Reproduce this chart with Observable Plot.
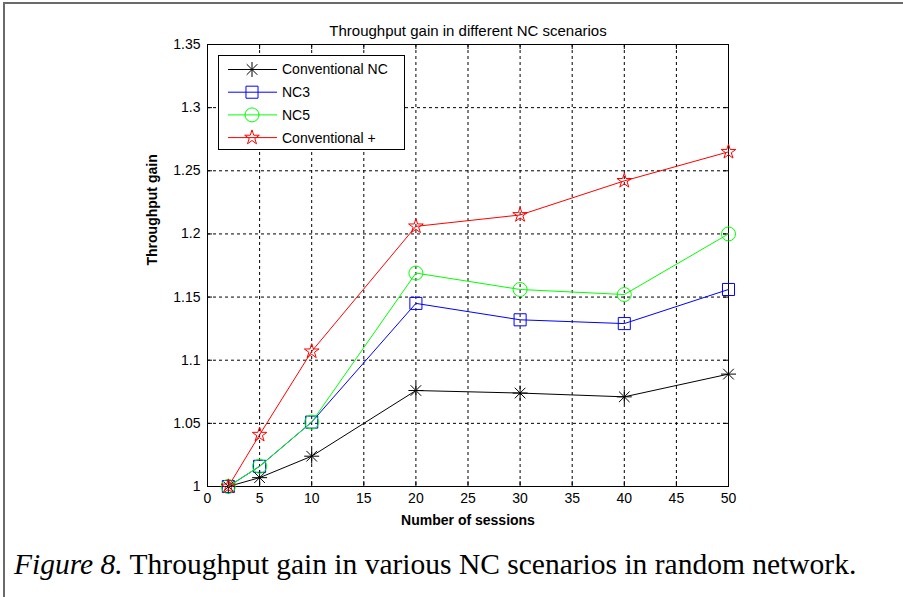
<!DOCTYPE html>
<html>
<head>
<meta charset="utf-8">
<script src="https://cdn.jsdelivr.net/npm/d3@7"></script>
<script src="https://cdn.jsdelivr.net/npm/@observablehq/plot@0.6"></script>
<style>
  html, body { margin: 0; padding: 0; background: #fff; }
  #page { position: relative; width: 903px; height: 597px; overflow: hidden; background: #fff; }
  #border { position: absolute; left: 3px; top: 2px; right: -5px; bottom: -5px; border-top: 2px solid #6a6a6a; border-left: 2px solid #6a6a6a; }
  #chart { position: absolute; left: 0; top: 0; }
  #legend { position: absolute; left: 218px; top: 55px; }
  #caption { position: absolute; left: 14px; top: 550px; font-family: "Liberation Serif", "Times New Roman", serif; font-size: 29.5px; line-height: 29.5px; color: #000; white-space: nowrap; }
</style>
</head>
<body>
<div id="page">
  <div id="border"></div>
  <div id="chart"></div>
  <div id="legend"></div>
  <div id="caption"><i>Figure 8.</i> Throughput gain in various NC scenarios in random network.</div>
</div>
<script>
// ---- data ----
const sessions = [2, 5, 10, 20, 30, 40, 50];
const conventionalNC = [1.000, 1.007, 1.024, 1.076, 1.074, 1.071, 1.089];
const nc3 = [1.000, 1.016, 1.051, 1.145, 1.132, 1.129, 1.156];
const nc5 = [1.000, 1.016, 1.051, 1.169, 1.156, 1.152, 1.200];
const conventionalPlus = [1.000, 1.041, 1.107, 1.206, 1.215, 1.242, 1.265];
const seriesNames = ["Conventional NC", "NC3", "NC5", "Conventional +"];
const xTicks = [0, 5, 10, 15, 20, 25, 30, 35, 40, 45, 50];
const yTicks = [1, 1.05, 1.1, 1.15, 1.2, 1.25, 1.3, 1.35];
const titleText = "Throughput gain in different NC scenarios";
const xLabel = "Number of sessions";
const yLabel = "Throughput gain";

// ---- styling ----
const asterisk8 = {
  draw(context, size) {
    const r = Math.sqrt(size / Math.PI);
    const d = r * Math.SQRT1_2;
    context.moveTo(-r, 0); context.lineTo(r, 0);
    context.moveTo(0, -r); context.lineTo(0, r);
    context.moveTo(-d, -d); context.lineTo(d, d);
    context.moveTo(-d, d); context.lineTo(d, -d);
  }
};
const styles = [
  {color: "#000000", symbol: asterisk8, r: 7.5},
  {color: "#0000ff", symbol: "square", r: 6.8},
  {color: "#00ff00", symbol: "circle", r: 7},
  {color: "#ff0000", symbol: "star", r: 4.6}
];
const seriesValues = [conventionalNC, nc3, nc5, conventionalPlus];
const series = seriesNames.map((name, k) => ({
  name,
  ...styles[k],
  data: sessions.map((x, i) => ({x, y: seriesValues[k][i]}))
}));

const W = 903, H = 540, mT = 44, mB = 54, mL = 207, mR = 175;
const innerH = H - mT - mB;
const font = "Liberation Sans, Arial, sans-serif";

const marks = [
  Plot.gridX(xTicks, {stroke: "#000", strokeOpacity: 1, strokeDasharray: "3,3", strokeWidth: 1}),
  Plot.gridY(yTicks, {stroke: "#000", strokeOpacity: 1, strokeDasharray: "3,3", strokeWidth: 1}),
  // inward ticks on all four sides
  Plot.ruleX(xTicks, {x: d => d, insetTop: innerH - 5, stroke: "#000"}),
  Plot.ruleX(xTicks, {x: d => d, insetBottom: innerH - 5, stroke: "#000"}),
  Plot.ruleY(yTicks, {y: d => d, insetRight: (W - mL - mR) - 5, stroke: "#000"}),
  Plot.ruleY(yTicks, {y: d => d, insetLeft: (W - mL - mR) - 5, stroke: "#000"}),
  Plot.frame({stroke: "#000", strokeWidth: 1}),
  Plot.axisX(xTicks, {tickSize: 0, tickPadding: 7, fontSize: 14, label: null, tickFormat: d => String(d)}),
  Plot.axisY(yTicks, {tickSize: 0, tickPadding: 7, fontSize: 14, label: null, tickFormat: d => String(+d.toFixed(2))}),
];
for (const s of series) {
  marks.push(Plot.line(s.data, {x: "x", y: "y", stroke: s.color, strokeWidth: 1}));
  marks.push(Plot.dot(s.data, {x: "x", y: "y", symbol: () => s.symbol, r: s.r, stroke: s.color, fill: "none", strokeWidth: 1}));
}
marks.push(
  Plot.text([titleText], {frameAnchor: "top", dy: -19, fontSize: 15, fill: "#000"}),
  Plot.text([xLabel], {frameAnchor: "bottom", dy: 38, fontSize: 14, fontWeight: "bold", fill: "#000"}),
  Plot.text([yLabel], {frameAnchor: "left", dx: -55, rotate: -90, fontSize: 14, fontWeight: "bold", fill: "#000"})
);

const chart = Plot.plot({
  width: W, height: H,
  marginTop: mT, marginBottom: mB, marginLeft: mL, marginRight: mR,
  style: {fontFamily: font, background: "transparent", color: "#000"},
  x: {domain: [0, 50], axis: null},
  y: {domain: [1, 1.35], axis: null},
  symbol: {type: "identity"},
  marks
});
document.getElementById("chart").appendChild(chart);

// ---- legend ----
const LW = 186, LH = 94;
const lsvg = d3.select("#legend").append("svg").attr("width", LW + 1).attr("height", LH + 1)
  .style("font-family", font);
lsvg.append("rect").attr("x", 0.5).attr("y", 0.5).attr("width", LW).attr("height", LH)
  .attr("fill", "#fff").attr("stroke", "#000");
const typeMap = {square: d3.symbolSquare, circle: d3.symbolCircle, star: d3.symbolStar};
series.forEach((s, i) => {
  const y = 14.5 + i * 22.7;
  const g = lsvg.append("g");
  g.append("line").attr("x1", 10).attr("x2", 59).attr("y1", y).attr("y2", y).attr("stroke", s.color);
  const t = typeof s.symbol === "string" ? typeMap[s.symbol] : s.symbol;
  g.append("path").attr("transform", `translate(34,${y})`)
    .attr("d", d3.symbol(t, s.r * s.r * Math.PI)())
    .attr("fill", "none").attr("stroke", s.color);
  g.append("text").attr("x", 64).attr("y", y).attr("dy", "0.35em").attr("font-size", 14).attr("fill", "#000").text(s.name);
});
</script>
</body>
</html>
